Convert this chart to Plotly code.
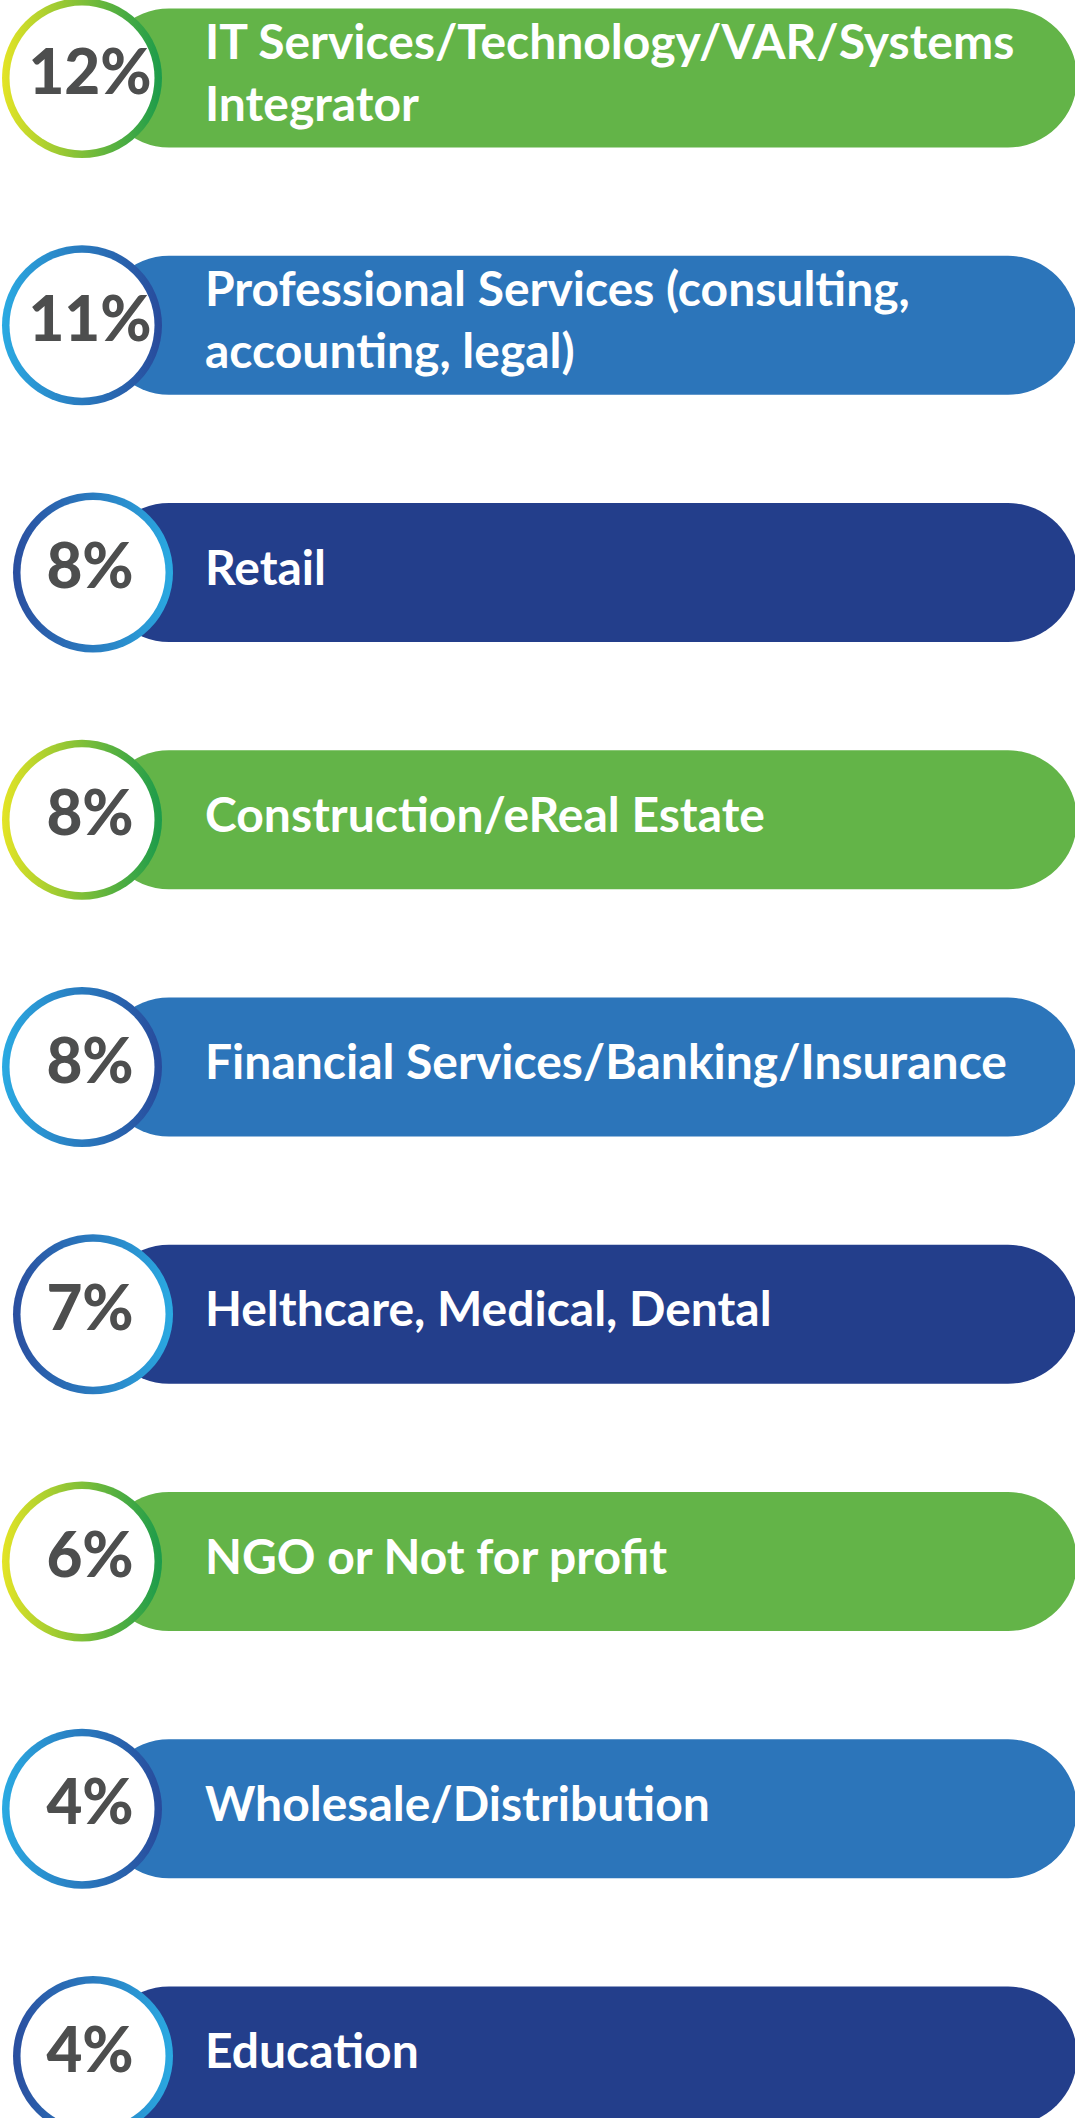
import plotly.graph_objects as go

# ---- data ----
categories = [
    "IT Services/Technology/VAR/Systems<br>Integrator",
    "Professional Services (consulting,<br>accounting, legal)",
    "Retail",
    "Construction/eReal Estate",
    "Financial Services/Banking/Insurance",
    "Helthcare, Medical, Dental",
    "NGO or Not for profit",
    "Wholesale/Distribution",
    "Education",
]
values = [12, 11, 8, 8, 8, 7, 6, 4, 4]
pct_labels = [f"{v}%" for v in values]

# ---- styles ----
THEMES = {
    "green": dict(bar="#63B448", ring_l="#E4E425", ring_r="#1B9B4B", cx=82),
    "blue": dict(bar="#2C75BA", ring_l="#2AAAE2", ring_r="#284A9B", cx=82),
    "navy": dict(bar="#233E8B", ring_l="#2A4E9F", ring_r="#2AAAE2", cx=93),
}
cycle = ["green", "blue", "navy"]
row_theme = [THEMES[cycle[i % 3]] for i in range(len(categories))]

W, H = 1075, 2118
BAR_START, BAR_END = 100, 1077
LABEL_X = 205
PCT_X = 90
ROW_TOP_PX, ROW_BOTTOM_PX = 78, 2056
n = len(categories)
step = (ROW_BOTTOM_PX - ROW_TOP_PX) / (n - 1)
bar_h = 139

fig = go.Figure()

fig.add_trace(go.Bar(
    y=categories,
    x=[BAR_END - BAR_START] * n,
    base=BAR_START,
    orientation="h",
    marker=dict(color=[t["bar"] for t in row_theme], line=dict(width=0), cornerradius="50%"),
    hoverinfo="skip",
    showlegend=False,
))

# circle outer ring (gradient) and inner white disc
for key in cycle:
    t = THEMES[key]
    idx = [i for i in range(n) if row_theme[i] is t]
    fig.add_trace(go.Scatter(
        x=[t["cx"]] * len(idx),
        y=[categories[i] for i in idx],
        mode="markers",
        marker=dict(size=160, color=t["ring_l"],
                    gradient=dict(type="horizontal", color=t["ring_r"]),
                    line=dict(width=0)),
        hoverinfo="skip", showlegend=False,
    ))
    fig.add_trace(go.Scatter(
        x=[t["cx"]] * len(idx),
        y=[categories[i] for i in idx],
        mode="markers",
        marker=dict(size=145, color="white", line=dict(width=0)),
        hoverinfo="skip", showlegend=False,
    ))

fig.add_trace(go.Scatter(
    x=[PCT_X] * n,
    y=categories,
    mode="text",
    text=pct_labels,
    textposition="middle center",
    textfont=dict(family="Lato", size=62, color="#4D4E4E", weight=900),
    hoverinfo="skip", showlegend=False,
))

fig.add_trace(go.Scatter(
    x=[LABEL_X] * n,
    y=categories,
    mode="text",
    text=categories,
    textposition="middle right",
    textfont=dict(family="Lato", size=48, color="white", weight=700),
    hoverinfo="skip", showlegend=False,
))

y_top = 0 - ROW_TOP_PX / step
y_bot = (n - 1) + (H - ROW_BOTTOM_PX) / step

fig.update_layout(
    width=W, height=H,
    margin=dict(l=0, r=0, t=0, b=0),
    paper_bgcolor="white", plot_bgcolor="white",
    bargap=1 - bar_h / step,
    xaxis=dict(range=[0, W], visible=False, fixedrange=True),
    yaxis=dict(type="category", range=[y_bot, y_top], visible=False, fixedrange=True),
    showlegend=False,
)

fig.write_html(
    "out.html",
    config={"displayModeBar": False},
    post_script="document.body.style.margin='0';document.body.style.overflow='hidden';",
)
